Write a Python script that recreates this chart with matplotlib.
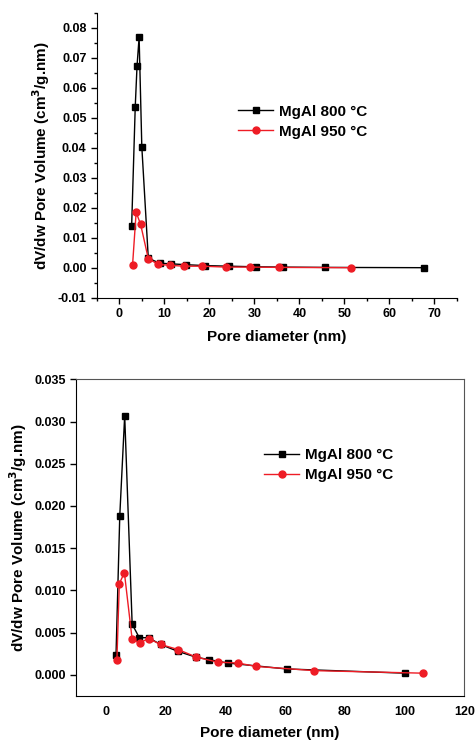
import matplotlib
matplotlib.use("Agg")
import matplotlib.pyplot as plt
from matplotlib.ticker import MultipleLocator, FormatStrFormatter

plt.rcParams['font.family'] = ['Liberation Sans', 'DejaVu Sans']
plt.rcParams['font.weight'] = 'bold'
plt.rcParams['axes.unicode_minus'] = False

# Grafic de sus
sus_x_800 = [2.7, 3.5, 3.9, 4.36, 4.96, 6.4, 8.9, 11.4, 14.7, 19.0, 24.4, 30.3, 36.4, 45.6, 67.6]
sus_y_800 = [0.0140, 0.0538, 0.0674, 0.0769, 0.0404, 0.0033, 0.0016, 0.0014, 0.0011,
             0.0008, 0.0006, 0.0004, 0.0003, 0.0002, 0.0001]
sus_x_950 = [2.9, 3.7, 4.7, 6.4, 8.6, 11.2, 14.3, 18.4, 23.7, 29.1, 35.5, 51.4]
sus_y_950 = [0.0009, 0.0186, 0.0145, 0.0031, 0.0012, 0.0009, 0.0006, 0.0006, 0.0003,
             0.0003, 0.0002, 0.0001]

# Grafic de jos
jos_x_800 = [3.4, 4.65, 6.3, 8.8, 11.2, 14.3, 18.3, 24.0, 30.1, 34.6, 40.8, 60.5, 100.2]
jos_y_800 = [0.0024, 0.0188, 0.0307, 0.0060, 0.0044, 0.0044, 0.0036, 0.0028, 0.0021,
             0.0018, 0.0014, 0.0007, 0.0002]
jos_x_950 = [3.7, 4.5, 6.2, 8.8, 11.3, 14.3, 18.3, 24.2, 30.3, 37.5, 44.2, 50.3, 69.8, 106.2]
jos_y_950 = [0.0018, 0.0108, 0.0121, 0.0042, 0.0038, 0.0043, 0.0036, 0.0030, 0.0021,
             0.0015, 0.0014, 0.0010, 0.0005, 0.0002]

eticheta_800 = "MgAl 800 °C"
eticheta_950 = "MgAl 950 °C"
eticheta_x = "Pore diameter (nm)"
eticheta_y = "dV/dw Pore Volume (cm$^\\mathbf{3}$/g.nm)"

fig = plt.figure(figsize=(4.75, 7.45), dpi=100)

# --- sus ---
ax1 = fig.add_axes([0.2042, 0.6000, 0.7579, 0.3826])
ax1.plot(sus_x_800, sus_y_800, '-s', color='black', lw=1, ms=4, label=eticheta_800)
ax1.plot(sus_x_950, sus_y_950, '-o', color='#ee1c25', lw=1, ms=5, label=eticheta_950)
ax1.set_xlim(-5, 75)
ax1.set_ylim(-0.01, 0.085)
ax1.xaxis.set_major_locator(MultipleLocator(10))
ax1.xaxis.set_minor_locator(MultipleLocator(5))
ax1.yaxis.set_major_locator(MultipleLocator(0.01))
ax1.yaxis.set_minor_locator(MultipleLocator(0.005))
ax1.yaxis.set_major_formatter(FormatStrFormatter('%.2f'))
ax1.spines['top'].set_visible(False)
ax1.spines['right'].set_visible(False)
ax1.tick_params(which='major', direction='out', length=4, width=1, labelsize=9)
ax1.tick_params(which='minor', direction='out', length=2.5, width=1)
ax1.set_xlabel(eticheta_x, fontsize=11, fontweight='bold', labelpad=7)
ax1.set_ylabel(eticheta_y, fontsize=11, fontweight='bold', labelpad=4)
ax1.legend(loc='center left', bbox_to_anchor=(0.392, 0.619), frameon=False,
           fontsize=11, handlelength=2.3, handletextpad=0.4, labelspacing=0.4,
           borderpad=0, borderaxespad=0)

# --- jos ---
ax2 = fig.add_axes([0.1600, 0.0658, 0.8175, 0.4251])
ax2.plot(jos_x_800, jos_y_800, '-s', color='black', lw=1, ms=4, label=eticheta_800)
ax2.plot(jos_x_950, jos_y_950, '-o', color='#ee1c25', lw=1, ms=5, label=eticheta_950)
ax2.set_xlim(-10, 120)
ax2.set_ylim(-0.0025, 0.035)
ax2.xaxis.set_major_locator(MultipleLocator(20))
ax2.yaxis.set_major_locator(MultipleLocator(0.005))
ax2.yaxis.set_major_formatter(FormatStrFormatter('%.3f'))
for s in ['top', 'right']:
    ax2.spines[s].set_color('#555555')
ax2.tick_params(axis='y', direction='out', length=4, width=1, labelsize=9)
ax2.tick_params(axis='x', length=0, pad=7, labelsize=9)
ax2.set_xlabel(eticheta_x, fontsize=11, fontweight='bold', labelpad=6)
ax2.set_ylabel(eticheta_y, fontsize=11, fontweight='bold', labelpad=4)
ax2.legend(loc='center left', bbox_to_anchor=(0.484, 0.729), frameon=False,
           fontsize=11, handlelength=2.3, handletextpad=0.4, labelspacing=0.4,
           borderpad=0, borderaxespad=0)

plt.savefig("out.png", dpi=100)
